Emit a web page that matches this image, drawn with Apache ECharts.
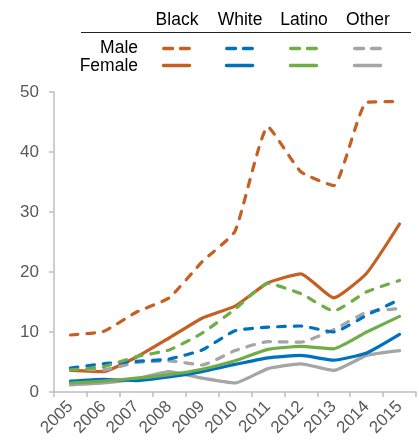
<!DOCTYPE html>
<html>
<head>
<meta charset="utf-8">
<script src="https://cdn.jsdelivr.net/npm/echarts@6/dist/echarts.min.js"></script>
<style>html,body{margin:0;padding:0;background:#fff}#c{width:419px;height:445px}</style>
</head>
<body>
<div id="c"></div>
<script>
const years = ['2005','2006','2007','2008','2009','2010','2011','2012','2013','2014','2015'];
const yTicks = [0, 10, 20, 30, 40, 50];
const groups = ['Black','White','Latino','Other'];
const sexes = ['Male','Female'];

const blackMale    = [9.5, 10.1, 13.3, 15.7, 21.7, 26.8, 44.2, 36.7, 34.4, 48.3, 48.4];
const blackFemale  = [3.6, 3.4, 5.8, 9.0, 12.3, 14.3, 18.2, 19.7, 15.7, 19.8, 28.0];
const whiteMale    = [4.0, 4.7, 5.1, 5.5, 7.0, 10.2, 10.8, 11.0, 10.0, 12.8, 15.4];
const whiteFemale  = [1.8, 2.1, 1.9, 2.5, 3.4, 4.6, 5.7, 6.1, 5.3, 6.5, 9.6];
const latinoMale   = [3.7, 4.2, 5.9, 7.0, 9.8, 13.8, 18.1, 16.4, 13.5, 16.7, 18.6];
const latinoFemale = [1.5, 1.8, 2.3, 2.9, 3.8, 5.2, 7.1, 7.6, 7.2, 10.0, 12.6];
const otherMale    = [3.9, 3.7, 4.9, 5.2, 4.5, 6.9, 8.4, 8.3, 10.4, 13.3, 13.9];
const otherFemale  = [1.2, 1.5, 2.2, 3.4, 2.3, 1.5, 3.9, 4.7, 3.6, 6.1, 6.9];

const colors = {Black:'#C55F22', White:'#0070C0', Latino:'#70AD47', Other:'#A5A5A5'};
const seriesData = {
  Black:{Male:blackMale, Female:blackFemale},
  White:{Male:whiteMale, Female:whiteFemale},
  Latino:{Male:latinoMale, Female:latinoFemale},
  Other:{Male:otherMale, Female:otherFemale}
};

const series = [];
['Other','White','Latino','Black'].forEach(g => {
  sexes.forEach(s => {
    series.push({
      name: g + ' ' + s,
      type: 'line',
      data: seriesData[g][s],
      smooth: 0.15,
      symbol: 'none',
      lineStyle: {
        color: colors[g],
        width: 3.2,
        type: s === 'Male' ? [7.5, 9] : 'solid',
        cap: 'round',
        join: 'round'
      },
      itemStyle: {color: colors[g]},
      z: s === 'Male' ? 3 : 2
    });
  });
});

const font = '"Liberation Sans", Arial, sans-serif';
const colX = {Black:177, White:240, Latino:304, Other:368};
const graphic = [];
groups.forEach(g => {
  graphic.push({type:'text', x: colX[g], y: 20, style:{text:g, font:'17.5px ' + font, fill:'#000', align:'center', verticalAlign:'middle'}});
});
graphic.push({type:'line', shape:{x1:81, y1:32.5, x2:411, y2:32.5}, style:{stroke:'#222', lineWidth:1.2}});
graphic.push({type:'text', x:138, y:48, style:{text:'Male', font:'17.5px ' + font, fill:'#000', align:'right', verticalAlign:'middle'}});
graphic.push({type:'text', x:138, y:66, style:{text:'Female', font:'17.5px ' + font, fill:'#000', align:'right', verticalAlign:'middle'}});
groups.forEach(g => {
  const cx = colX[g] - 0.5;
  graphic.push({type:'line', shape:{x1:cx-12.75, y1:48.5, x2:cx+12.75, y2:48.5}, style:{stroke:colors[g], lineWidth:3.5, lineCap:'round', lineDash:[8.75, 8]}});
  graphic.push({type:'line', shape:{x1:cx-13, y1:65.5, x2:cx+13, y2:65.5}, style:{stroke:colors[g], lineWidth:3.5, lineCap:'round'}});
});

const chart = echarts.init(document.getElementById('c'), null, {renderer:'canvas'});
chart.setOption({
  animation: false,
  backgroundColor: '#fff',
  grid: {left: 54, right: 3, top: 92, bottom: 53, containLabel: false},
  xAxis: {
    type: 'category',
    data: years,
    boundaryGap: true,
    axisLine: {lineStyle: {color: '#BFBFBF', width: 1.5}},
    axisTick: {show: true, length: 5, alignWithLabel: false, lineStyle: {color: '#BFBFBF', width: 1.5}},
    axisLabel: {interval: 0, rotate: 45, fontSize: 17, color: '#595959', fontFamily: font, margin: 12}
  },
  yAxis: {
    type: 'value',
    min: yTicks[0],
    max: yTicks[yTicks.length - 1],
    interval: yTicks[1] - yTicks[0],
    axisLine: {show: true, lineStyle: {color: '#BFBFBF', width: 1.5}},
    axisTick: {show: true, length: 5, lineStyle: {color: '#BFBFBF', width: 1.5}},
    splitLine: {show: false},
    axisLabel: {fontSize: 17, color: '#595959', fontFamily: font, margin: 15}
  },
  series: series,
  graphic: graphic
});
</script>
</body>
</html>
